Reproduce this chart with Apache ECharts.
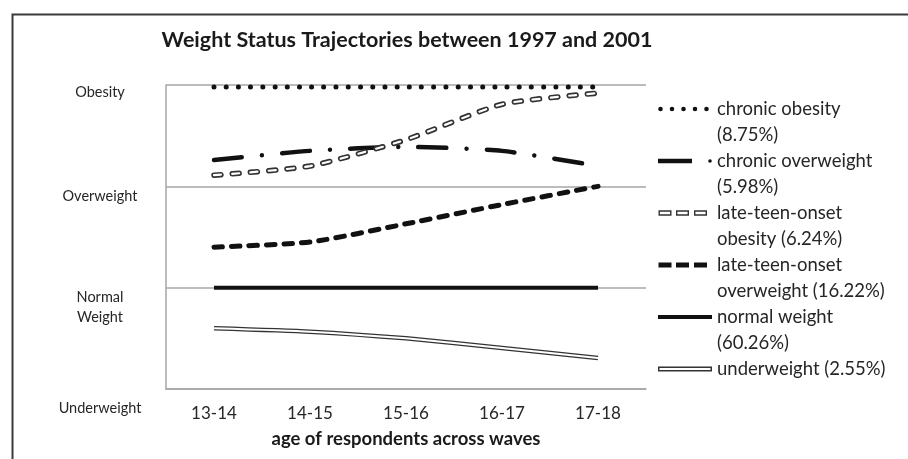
<!DOCTYPE html>
<html>
<head>
<meta charset="utf-8">
<script src="https://cdn.jsdelivr.net/npm/echarts@6/dist/echarts.min.js"></script>
<style>
html,body{margin:0;padding:0;background:#fff;}
#chart{width:908px;height:459px;}
</style>
</head>
<body>
<div id="chart"></div>
<script>
// ---- data ----
const ages = ['13-14', '14-15', '15-16', '16-17', '17-18'];
const yTickLabels = ['Underweight', 'Normal\nWeight', 'Overweight', 'Obesity'];
const seriesNames = [
  'chronic obesity (8.75%)',
  'chronic overweight (5.98%)',
  'late-teen-onset obesity (6.24%)',
  'late-teen-onset overweight (16.22%)',
  'normal weight (60.26%)',
  'underweight (2.55%)'
];
const legendLabels = [
  'chronic obesity\n(8.75%)',
  'chronic overweight\n(5.98%)',
  'late-teen-onset\nobesity (6.24%)',
  'late-teen-onset\noverweight (16.22%)',
  'normal weight\n(60.26%)',
  'underweight (2.55%)\n'
];
const chronicObesity = [2.98, 2.98, 2.98, 2.98, 2.98];
const chronicOverweight = [2.26, 2.35, 2.39, 2.35, 2.20];
const lateTeenObesity = [2.11, 2.20, 2.46, 2.81, 2.92];
const lateTeenOverweight = [1.40, 1.45, 1.63, 1.82, 2.00];
const normalWeight = [1, 1, 1, 1, 1];
const underweight = [0.60, 0.566, 0.50, 0.405, 0.306];

// ---- legend icon helpers (style only) ----
const IW = 54, IH = 52, CY = 13;
const frame = 'M0 0 L0 0 Z M' + IW + ' ' + IH + ' L' + IW + ' ' + IH + ' Z ';
function rectCW(x1, y1, x2, y2) { return 'M' + x1 + ' ' + y1 + ' H' + x2 + ' V' + y2 + ' H' + x1 + ' Z '; }
function rectCCW(x1, y1, x2, y2) { return 'M' + x1 + ' ' + y1 + ' V' + y2 + ' H' + x2 + ' V' + y1 + ' Z '; }
function circ(x, y, r) { return 'M' + (x - r) + ' ' + y + ' A' + r + ' ' + r + ' 0 1 0 ' + (x + r) + ' ' + y + ' A' + r + ' ' + r + ' 0 1 0 ' + (x - r) + ' ' + y + ' Z '; }
function outlined(x1, x2, h, inset) {
  return rectCW(x1, CY - h / 2, x2, CY + h / 2) + rectCCW(x1 + inset, CY - h / 2 + inset, x2 - inset, CY + h / 2 - inset);
}
const icons = [
  'path://' + frame + [2.5, 14, 25.5, 37, 48.5].map(x => circ(x, CY, 2.3)).join(''),
  'path://' + frame + rectCW(0, CY - 2.2, 34, CY + 2.2) + circ(52, CY, 1.8),
  'path://' + frame + [[0.5, 13.5], [18, 31], [36, 49]].map(d => outlined(d[0], d[1], 5.4, 1.4)).join(''),
  'path://' + frame + [[0.5, 13.5], [18, 31], [36, 49]].map(d => rectCW(d[0], CY - 2.5, d[1], CY + 2.5)).join(''),
  'path://' + frame + rectCW(0, CY - 2, 54, CY + 2),
  'path://' + frame + outlined(0, 54, 5, 1.5)
];
const iconColors = ['#111', '#111', '#333', '#111', '#111', '#333'];

const FONT = 'Lato';
const ink = '#111';
const styleKeys = ['d', 'c', 'b', 'a'];

const chart = echarts.init(document.getElementById('chart'), null, {renderer: 'canvas'});

function lineSeries(name, data, lineStyle, z) {
  return {
    name: name, type: 'line', data: data, smooth: 0.2, symbol: 'none',
    lineStyle: lineStyle, z: z || 2, silent: true, animation: false
  };
}

const option = {
  animation: false,
  backgroundColor: '#fff',
  title: {
    text: 'Weight Status Trajectories between 1997 and 2001',
    left: 402, top: 24, textAlign: 'center',
    textStyle: {fontFamily: FONT, fontSize: 21.5, fontWeight: 'bold', color: '#1a1a1a'}
  },
  graphic: [{
    type: 'rect', left: 10, top: 12, silent: true,
    shape: {x: 0, y: 0, width: 1000, height: 1000},
    style: {fill: 'none', stroke: '#3a3a3a', lineWidth: 2}
  }],
  grid: {left: 166, right: 262, top: 85, bottom: 70},
  xAxis: {
    type: 'category', data: ages, boundaryGap: true,
    axisLine: {show: true, lineStyle: {color: '#a6a6a6', width: 1.5}},
    axisTick: {show: false},
    axisLabel: {margin: 16, fontFamily: FONT, fontSize: 17, color: '#262626'},
    name: 'age of respondents across waves', nameLocation: 'middle', nameGap: 41,
    nameTextStyle: {fontFamily: FONT, fontSize: 18.5, fontWeight: 'bold', color: '#1a1a1a'}
  },
  yAxis: {
    type: 'value', min: 0, max: 3, interval: 1,
    axisLine: {show: true, lineStyle: {color: '#a6a6a6', width: 1.5}},
    axisTick: {show: false},
    splitLine: {show: true, lineStyle: {color: '#a6a6a6', width: 1.5}},
    axisLabel: {
      showMinLabel: true, showMaxLabel: true,
      align: 'center', verticalAlign: 'top', margin: 66,
      fontFamily: FONT, fontSize: 14.5, color: '#262626',
      formatter: function (v) {
        const i = Math.round(v);
        const k = styleKeys[i];
        return yTickLabels[i].split('\n').map(s => '{' + k + '|' + s + '}').join('\n');
      },
      rich: {
        a: {fontFamily: FONT, fontSize: 14.5, color: '#262626', lineHeight: 14},
        b: {fontFamily: FONT, fontSize: 14.5, color: '#262626', lineHeight: 20},
        c: {fontFamily: FONT, fontSize: 14.5, color: '#262626', lineHeight: 20},
        d: {fontFamily: FONT, fontSize: 14.5, color: '#262626', lineHeight: 38}
      }
    }
  },
  legend: {
    orient: 'vertical', left: 658, top: 96, padding: 0, itemGap: 0,
    itemWidth: IW, itemHeight: IH, selectedMode: false,
    data: seriesNames.map((n, i) => ({name: n, icon: icons[i], itemStyle: {color: iconColors[i], borderWidth: 0}})),
    formatter: function (name) { return legendLabels[seriesNames.indexOf(name)]; },
    itemStyle: {borderWidth: 0},
    textStyle: {fontFamily: FONT, fontSize: 18.5, lineHeight: 26, color: '#262626'}
  },
  series: [
    lineSeries(seriesNames[0], chronicObesity, {color: ink, width: 5, type: [0.01, 12.2], cap: 'round'}),
    lineSeries(seriesNames[1], chronicOverweight, {color: ink, width: 4.5, type: [28, 20.15, 0.01, 20.15], cap: 'round'}),
    lineSeries(seriesNames[2], lateTeenObesity, {color: '#333', width: 5.5, type: [7, 11.3], cap: 'round'}),
    lineSeries(seriesNames[2] + ' inner', lateTeenObesity, {color: '#fff', width: 2.2, type: [7, 11.3], cap: 'round'}, 3),
    lineSeries(seriesNames[3], lateTeenOverweight, {color: ink, width: 5, type: [8.5, 9], cap: 'round'}),
    lineSeries(seriesNames[4], normalWeight, {color: ink, width: 4}),
    lineSeries(seriesNames[5], underweight, {color: '#333', width: 4.5}),
    lineSeries(seriesNames[5] + ' inner', underweight, {color: '#fff', width: 2}, 3)
  ]
};
chart.setOption(option);
</script>
</body>
</html>
